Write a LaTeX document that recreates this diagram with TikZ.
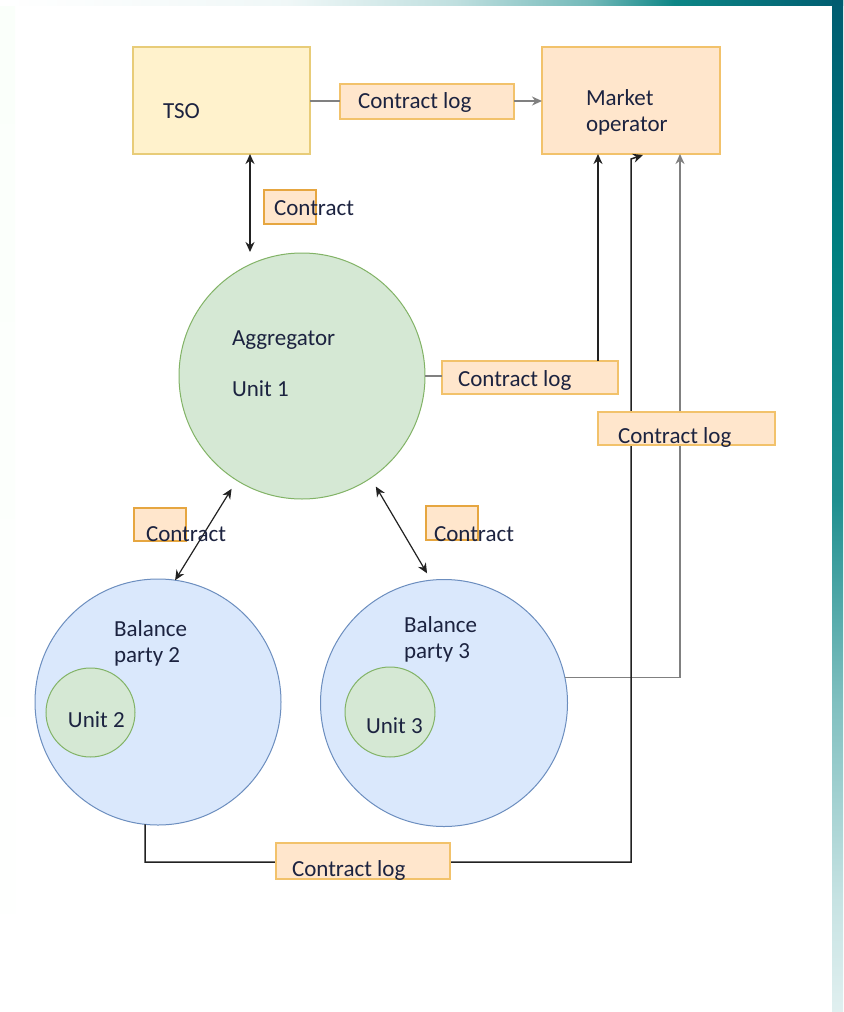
\documentclass[tikz,border=0pt]{standalone}
\usepackage{fontspec}
\setmainfont{Carlito}
\usetikzlibrary{arrows.meta,calc}
\definecolor{tsofill}{HTML}{FFF2CC}
\definecolor{tsodraw}{HTML}{E8CC78}
\definecolor{orfill}{HTML}{FFE6CC}
\definecolor{ordraw}{HTML}{F2C26B}
\definecolor{ctrdraw}{HTML}{E6A640}
\definecolor{grfill}{HTML}{D5E8D4}
\definecolor{grdraw}{HTML}{82B366}
\definecolor{blfill}{HTML}{DAE8FC}
\definecolor{bldraw}{HTML}{6C8EBF}
\definecolor{txt}{HTML}{1C2340}
\definecolor{lnk}{HTML}{222222}
\definecolor{lgray}{HTML}{808080}
\pgfdeclarehorizontalshading{topbar}{100bp}{color(0bp)=(white); color(25bp)=(white); color(42bp)=(white!94!teal); color(52bp)=(white!75!teal); color(60bp)=(white!45!teal); color(65bp)=(white!5!teal); color(75bp)=(teal!90!blue!80!black); color(100bp)=(teal!90!blue!80!black)}
\pgfdeclareverticalshading{rightbar}{100bp}{color(0bp)=(white!88!teal); color(25bp)=(white!88!teal); color(30.5bp)=(white!78!teal); color(40.4bp)=(white!50!teal); color(50.3bp)=(white!12!teal); color(62.6bp)=(teal); color(75bp)=(teal!90!blue!80!black); color(100bp)=(teal!90!blue!80!black)}
\tikzset{
  base/.style={inner sep=0pt, outer sep=0pt},
  tsobox/.style={base, draw=tsodraw, fill=tsofill, line width=0.75pt},
  logbox/.style={base, draw=ordraw, fill=orfill, line width=0.75pt},
  ctrbox/.style={base, draw=ctrdraw, fill=orfill, line width=0.6pt},
  grcirc/.style={base, circle, draw=grdraw, fill=grfill, line width=0.5pt},
  blcirc/.style={base, circle, draw=bldraw, fill=blfill, line width=0.5pt},
  lbl/.style={base, anchor=base west, text=txt, font=\fontsize{11.5}{13}\selectfont},
  conn/.style={draw=lnk, line width=0.75pt},
  gconn/.style={draw=lgray, line width=0.75pt},
  tip/.style={-{Stealth[length=5pt,width=4.5pt]}},
  dtip/.style={{Stealth[length=5pt,width=4.5pt]}-{Stealth[length=5pt,width=4.5pt]}}
}
\begin{document}
\begin{tikzpicture}[x=0.5pt,y=-0.5pt]
\useasboundingbox (0,0) rectangle (843,1012);
\fill[white] (0,0) rectangle (843,1012);
\shade[top color=black!3!green!2!white, bottom color=white] (0,5) rectangle (15,1012);
\shade[shading=topbar] (0,0) rectangle (843,5);
\shade[shading=rightbar] (832,0) rectangle (843,1012);

% coordinates for vertical routes
\coordinate (xa) at (598,0);
\coordinate (xb) at (631,0);
\coordinate (xc) at (680,0);
\coordinate (tsoarr) at (250,252);

\node[tsobox, minimum width=88.5pt, minimum height=53.5pt] (tso) at (221.5,100.5) {};
\node[logbox, minimum width=89pt, minimum height=53.5pt] (mo) at (631,100.5) {};
\node[grcirc, minimum size=123pt] (agg) at (302,376) {};
\node[blcirc, minimum size=123pt] (bp2) at (158,702) {};
\node[grcirc, minimum size=44.5pt] (u2) at (90.5,712.5) {};
\node[blcirc, minimum size=123.5pt] (bp3) at (444,703) {};
\node[grcirc, minimum size=45pt] (u3) at (390,712) {};

% connectors behind the log boxes
\draw[gconn, tip] (bp3.12) -- (bp3.12 -| xc) -- (mo.south -| xc);
\draw[conn, tip] (bp2.264) -- ($(bp2.264 |- 0,862)$) -- ($(xb |- 0,862)$) -- ($(mo.south -| xb)+(0,5)$) -- ($(mo.south -| xb)+(12,1)$);

\node[logbox, minimum width=87pt, minimum height=17.5pt] (log1) at (427,101.5) {};
\node[ctrbox, minimum width=26pt, minimum height=17pt] (ctr1) at (290,207) {};
\node[logbox, minimum width=88pt, minimum height=16.5pt] (logm) at (530,377.5) {};
\node[logbox, minimum width=88.5pt, minimum height=16.5pt] (log2) at (686.5,428.5) {};
\node[ctrbox, minimum width=26pt, minimum height=16.5pt] (ctrL) at (160,524.5) {};
\node[ctrbox, minimum width=26pt, minimum height=17pt] (ctrR) at (452,523) {};
\node[logbox, minimum width=87pt, minimum height=18pt] (logb) at (363,861) {};

\draw[gconn] (tso.east |- 0,101) -- (log1.west |- 0,101);
\draw[gconn, tip] (log1.east |- 0,101) -- (mo.west |- 0,101);
\draw[conn, dtip] (tso.south -| tsoarr) -- (tsoarr);
\draw[gconn] (agg.east) -- (agg.east -| logm.west);
\draw[conn, tip] (logm.north -| xa) -- (mo.south -| xa);
\draw[conn, line width=0.6pt, dtip, shorten <=5pt] (agg.238) -- (bp2.82);
\draw[conn, line width=0.6pt, dtip, shorten <=5pt, shorten >=4pt] (agg.304) -- (bp3.96);

% texts
\node[lbl] (ttso) at (163,118) {TSO};
\node[lbl] (tmo1) at (586,105) {Market};
\node[lbl] (tmo2) at (586,131) {operator};
\node[lbl] (tlog1) at (358,108) {Contract log};
\node[lbl] (tctr1) at (274,215) {Contract};
\node[lbl] (tagg1) at (232,345) {Aggregator};
\node[lbl] (tagg2) at (232,396) {Unit 1};
\node[lbl] (tlogm) at (458,386) {Contract log};
\node[lbl] (tlog2) at (618,443) {Contract log};
\node[lbl] (tctrL) at (146,541) {Contract};
\node[lbl] (tctrR) at (434,541) {Contract};
\node[lbl] (tbp2a) at (114,636) {Balance};
\node[lbl] (tbp2b) at (114,662) {party 2};
\node[lbl] (tbp3a) at (404,632) {Balance};
\node[lbl] (tbp3b) at (404,658) {party 3};
\node[lbl] (tu2) at (68,727) {Unit 2};
\node[lbl] (tu3) at (366,733) {Unit 3};
\node[lbl] (tlogb) at (292,876) {Contract log};
\end{tikzpicture}
\end{document}
